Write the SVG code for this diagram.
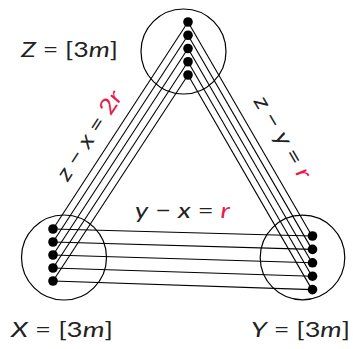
<svg xmlns="http://www.w3.org/2000/svg" width="353" height="349" viewBox="0 0 353 349">
<style>
.c{fill:none;stroke:#000;stroke-width:1.2}
.d{fill:#000}
.e line{stroke:#000;stroke-width:1.1}
text{font-family:Lato,"Noto Sans","DejaVu Sans",sans-serif;font-size:22px;fill:#222}
.i{font-style:italic}
.r{fill:#e8194b}
</style>
<rect width="353" height="349" fill="#fff"/>
<g id="connectors" class="e">
<line x1="188" y1="22" x2="53" y2="229"/>
<line x1="188" y1="35.25" x2="53" y2="242"/>
<line x1="188" y1="48.5" x2="53" y2="255"/>
<line x1="188" y1="61.75" x2="53" y2="268"/>
<line x1="188" y1="75" x2="53" y2="281"/>
<line x1="188" y1="22" x2="312" y2="236"/>
<line x1="188" y1="35.25" x2="312" y2="249.4"/>
<line x1="188" y1="48.5" x2="312" y2="262.8"/>
<line x1="188" y1="61.75" x2="312" y2="276.2"/>
<line x1="188" y1="75" x2="312" y2="289.6"/>
<line x1="53" y1="229" x2="312" y2="236"/>
<line x1="53" y1="242" x2="312" y2="249.4"/>
<line x1="53" y1="255" x2="312" y2="262.8"/>
<line x1="53" y1="268" x2="312" y2="276.2"/>
<line x1="53" y1="281" x2="312" y2="289.6"/>
</g>
<g id="Z">
<circle class="c" cx="183.5" cy="51.5" r="42.5"/>
<circle class="d" cx="188" cy="22" r="4.8"/>
<circle class="d" cx="188" cy="35.25" r="4.8"/>
<circle class="d" cx="188" cy="48.5" r="4.8"/>
<circle class="d" cx="188" cy="61.75" r="4.8"/>
<circle class="d" cx="188" cy="75" r="4.8"/>
<text x="21" y="56.5" textLength="97" lengthAdjust="spacingAndGlyphs"><tspan class="i">Z</tspan> = [3<tspan class="i">m</tspan>]</text>
</g>
<g id="X">
<circle class="c" cx="64" cy="257.5" r="42.5"/>
<circle class="d" cx="53" cy="229" r="4.8"/>
<circle class="d" cx="53" cy="242" r="4.8"/>
<circle class="d" cx="53" cy="255" r="4.8"/>
<circle class="d" cx="53" cy="268" r="4.8"/>
<circle class="d" cx="53" cy="281" r="4.8"/>
<text x="11" y="336.5" textLength="102" lengthAdjust="spacingAndGlyphs"><tspan class="i">X</tspan> = [3<tspan class="i">m</tspan>]</text>
</g>
<g id="Y">
<circle class="c" cx="302.5" cy="257.5" r="42.3"/>
<circle class="d" cx="312.5" cy="236" r="4.8"/>
<circle class="d" cx="312.5" cy="249.4" r="4.8"/>
<circle class="d" cx="312.5" cy="262.8" r="4.8"/>
<circle class="d" cx="312.5" cy="276.2" r="4.8"/>
<circle class="d" cx="312.5" cy="289.6" r="4.8"/>
<text x="251" y="336.5" textLength="99" lengthAdjust="spacingAndGlyphs"><tspan class="i">Y</tspan> = [3<tspan class="i">m</tspan>]</text>
</g>
<g id="labels">
<text transform="translate(95.5,139.5) rotate(-56.9)" text-anchor="middle" textLength="102" lengthAdjust="spacingAndGlyphs"><tspan class="i">z</tspan> − <tspan class="i">x</tspan> = <tspan class="r">2<tspan class="i">r</tspan></tspan></text>
<text transform="translate(276.5,141) rotate(59.7)" text-anchor="middle" textLength="92" lengthAdjust="spacingAndGlyphs"><tspan class="i">z</tspan> − <tspan class="i">y</tspan> = <tspan class="r i">r</tspan></text>
<text x="135" y="218.3" textLength="95" lengthAdjust="spacingAndGlyphs"><tspan class="i">y</tspan> − <tspan class="i">x</tspan> = <tspan class="r i">r</tspan></text>
</g>
</svg>
